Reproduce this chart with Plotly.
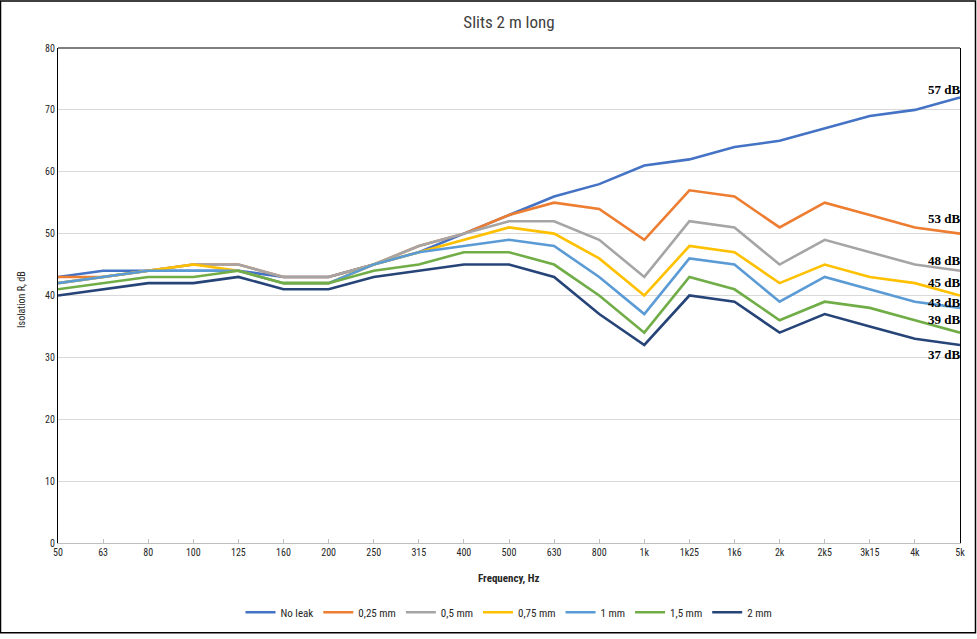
import plotly.graph_objects as go

categories = ["50", "63", "80", "100", "125", "160", "200", "250", "315", "400", "500",
              "630", "800", "1k", "1k25", "1k6", "2k", "2k5", "3k15", "4k", "5k"]

no_leak = [43, 44, 44, 44, 44, 43, 43, 45, 47, 50, 53, 56, 58, 61, 62, 64, 65, 67, 69, 70, 72]
mm_025  = [43, 43, 44, 45, 45, 43, 43, 45, 48, 50, 53, 55, 54, 49, 57, 56, 51, 55, 53, 51, 50]
mm_05   = [42, 43, 44, 45, 45, 43, 43, 45, 48, 50, 52, 52, 49, 43, 52, 51, 45, 49, 47, 45, 44]
mm_075  = [42, 43, 44, 45, 44, 42, 42, 45, 47, 49, 51, 50, 46, 40, 48, 47, 42, 45, 43, 42, 40]
mm_1    = [42, 43, 44, 44, 44, 42, 42, 45, 47, 48, 49, 48, 43, 37, 46, 45, 39, 43, 41, 39, 38]
mm_15   = [41, 42, 43, 43, 44, 42, 42, 44, 45, 47, 47, 45, 40, 34, 43, 41, 36, 39, 38, 36, 34]
mm_2    = [40, 41, 42, 42, 43, 41, 41, 43, 44, 45, 45, 43, 37, 32, 40, 39, 34, 37, 35, 33, 32]

series_names = ["No leak", "0,25 mm", "0,5 mm", "0,75 mm", "1 mm", "1,5 mm", "2 mm"]
series_values = [no_leak, mm_025, mm_05, mm_075, mm_1, mm_15, mm_2]
series_colors = ["#4472C4", "#ED7D31", "#A5A5A5", "#FFC000", "#5B9BD5", "#70AD47", "#264478"]

end_labels = ["57 dB", "53 dB", "48 dB", "45 dB", "43 dB", "39 dB", "37 dB"]
end_label_y = [73.3, 52.4, 45.7, 42.1, 38.8, 36.1, 30.4]

FONT = "Liberation Sans Narrow, Roboto Condensed, Arial Narrow, Liberation Sans, sans-serif"

fig = go.Figure()
for name, vals, col in zip(series_names, series_values, series_colors):
    fig.add_trace(go.Scatter(x=categories, y=vals, mode="lines", name=name,
                             line=dict(color=col, width=2.6)))

for txt, yv in zip(end_labels, end_label_y):
    fig.add_annotation(x=categories[-1], y=yv, xref="x", yref="y", text="<b>" + txt + "</b>",
                       showarrow=False, xanchor="right", yanchor="middle", xshift=2,
                       font=dict(family="Liberation Serif, DejaVu Serif, serif", size=13, color="#000000"))

fig.add_annotation(x=0.5, y=-0.072, xref="paper", yref="paper", text="<b>Frequency, Hz</b>",
                   showarrow=False, xanchor="center", yanchor="middle",
                   font=dict(family=FONT, size=11, color="#262626"))
fig.add_annotation(x=-0.04, y=0.493, xref="paper", yref="paper", text="Isolation R, dB",
                   showarrow=False, textangle=-90, xanchor="center", yanchor="middle",
                   font=dict(family=FONT, size=10, color="#262626"))

# top border of plot area
fig.add_shape(type="line", xref="paper", yref="paper", x0=0, x1=1, y0=1, y1=1,
              line=dict(color="#000000", width=1.2))
# outer chart border
fig.add_shape(type="rect", xref="paper", yref="paper",
              x0=-57.5 / 902, x1=(975.5 - 58) / 902, y0=(547 - 637.5) / 499, y1=(547 - 0.5) / 499,
              line=dict(color="#000000", width=1.5))

fig.update_layout(
    width=977, height=639,
    margin=dict(l=58, r=17, t=48, b=92),
    paper_bgcolor="white", plot_bgcolor="white",
    title=dict(text="Slits 2 m long", x=0.5, xref="paper", xanchor="center",
               y=1 - 22 / 639, yanchor="middle", yref="container",
               font=dict(family=FONT, size=17, color="#404040")),
    showlegend=True,
    legend=dict(orientation="h", x=0.5, xanchor="center", y=-0.14, yanchor="middle",
                font=dict(family=FONT, size=11, color="#262626"),
                itemwidth=30, tracegroupgap=0),
    font=dict(family=FONT, size=10, color="#262626"),
)
fig.update_xaxes(type="category", range=[0, 20], showgrid=False,
                 showline=True, linecolor="#BFBFBF", linewidth=1,
                 ticks="inside", ticklen=4, tickcolor="#BFBFBF",
                 tickfont=dict(family=FONT, size=10, color="#262626"), zeroline=False)
fig.update_yaxes(range=[0, 80], dtick=10, showgrid=True, gridcolor="#D9D9D9", gridwidth=1,
                 showline=True, linecolor="#000000", linewidth=1.2, mirror=True,
                 ticks="", zeroline=False,
                 tickfont=dict(family=FONT, size=10, color="#262626"))

fig.write_html("out.html", config={"displayModeBar": False},
               post_script="document.body.style.margin='0';document.body.style.overflow='hidden';")
